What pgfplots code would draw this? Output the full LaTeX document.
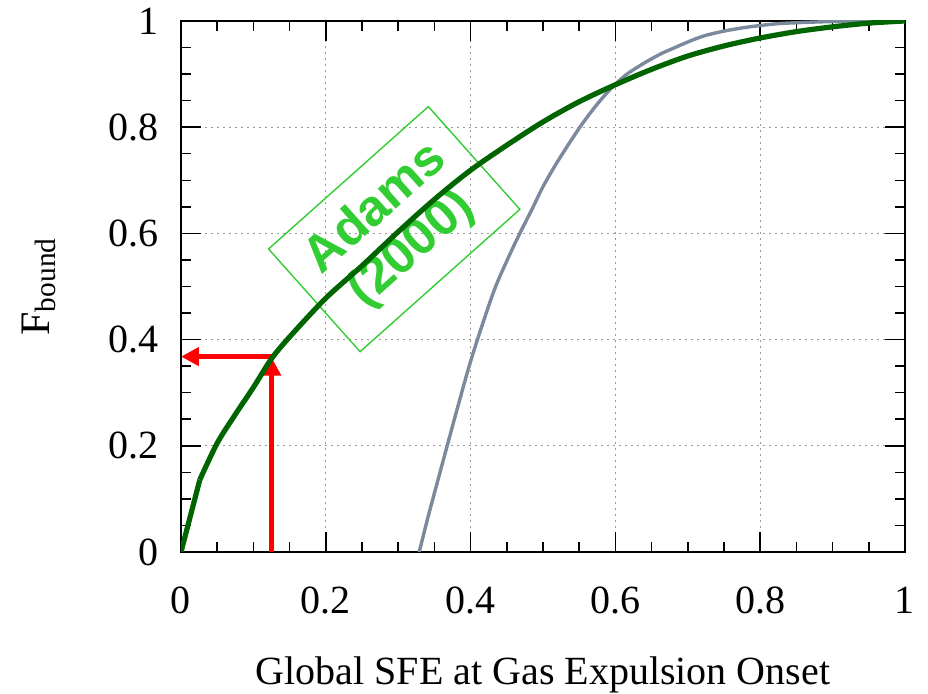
\documentclass[border=0pt]{standalone}
\usepackage{pgfplots}
\pgfplotsset{compat=1.18}
\usetikzlibrary{arrows.meta}
\usepackage{fontspec}
\setmainfont{Liberation Serif}
\newfontfamily\boxfont{Liberation Sans}
\definecolor{lgreen}{RGB}{50,205,50}
\definecolor{dgreen}{RGB}{0,100,0}
\definecolor{slate}{RGB}{122,138,156}
\begin{document}
\begin{tikzpicture}
\begin{axis}[name=ax, scale only axis, width=362pt, height=265.5pt,
  xmin=0, xmax=1, ymin=0, ymax=1,
  xtick={0,0.2,0.4,0.6,0.8,1}, ytick={0,0.2,0.4,0.6,0.8,1},
  xticklabels={0,0.2,0.4,0.6,0.8,1}, yticklabels={0,0.2,0.4,0.6,0.8,1},
  minor tick num=3, tick align=inside,
  major tick length=10pt, minor tick length=5pt,
  tick style={black, line width=0.75pt},
  axis line style={line width=0.9pt, black},
  xmajorgrids, ymajorgrids,
  major grid style={gray!80, line width=0.6pt, dash pattern=on 0.8pt off 2.2pt},
  /pgf/number format/assume math mode=true,
  ticklabel style={font=\fontsize{20}{24}\selectfont},
  xticklabel style={yshift=-14pt},
  yticklabel style={xshift=-7.7pt},
  xlabel={Global SFE at Gas Expulsion Onset},
  xlabel style={font=\fontsize{20}{24}\selectfont, at={(axis description cs:0.5,0)}, anchor=base, yshift=-66.5pt},
  ylabel={F\textsubscript{bound}},
  ylabel style={font=\fontsize{21}{25}\selectfont, at={(axis description cs:-0.1823,0.5)}, anchor=base},
]
\node[rotate=41.7, draw=lgreen, line width=0.7pt, minimum width=107pt, minimum height=68.8pt,
      inner sep=0pt, align=center, text=lgreen,
      font=\boxfont\bfseries\fontsize{25.5}{27}\selectfont] at (axis cs:0.2945,0.608) {Adams\\(2000)};
\addplot[red, mark=none, line width=2.5pt, -{Triangle[length=9pt,width=9pt]}]
  coordinates {(0.1253,0) (0.1253,0.366)};
\addplot[red, mark=none, line width=2.5pt, -{Triangle[length=9pt,width=9pt]}]
  coordinates {(0.1253,0.368) (0,0.368)};
\addplot[slate, mark=none, line width=1.7pt, smooth, tension=0.5] coordinates {
  (0.329,0) (0.342,0.07) (0.355,0.136) (0.38,0.262) (0.402,0.368) (0.431,0.487)
  (0.45,0.548) (0.468,0.600) (0.485,0.646) (0.500,0.688) (0.516,0.726) (0.533,0.763)
  (0.552,0.802) (0.570,0.835) (0.584,0.858) (0.597,0.877) (0.615,0.899) (0.634,0.916)
  (0.649,0.928) (0.664,0.939) (0.679,0.948) (0.694,0.957) (0.71,0.966) (0.725,0.973)
  (0.74,0.978) (0.754,0.982) (0.775,0.987) (0.797,0.991) (0.825,0.995) (0.855,0.997)
  (0.9,0.999) (0.95,1) (1,1)};
\addplot[dgreen, mark=none, line width=2.6pt] coordinates {(0,0) (0.026,0.136)};
\addplot[dgreen, mark=none, line width=2.6pt, smooth, tension=0.5] coordinates {
  (0.026,0.136) (0.05,0.205) (0.075,0.259) (0.1,0.31) (0.125,0.364)
  (0.15,0.405) (0.2,0.478) (0.25,0.539) (0.3,0.603) (0.35,0.664) (0.4,0.719)
  (0.45,0.766) (0.5,0.81) (0.55,0.848) (0.6,0.88) (0.65,0.909) (0.7,0.934)
  (0.75,0.953) (0.8,0.968) (0.85,0.98) (0.9,0.989) (0.95,0.996) (1,1)};
\end{axis}
\pgfresetboundingbox
\path ([shift={(-90.5pt,-71pt)}]ax.south west) rectangle ([shift={(11.5pt,10.5pt)}]ax.north east);
\end{tikzpicture}
\end{document}
